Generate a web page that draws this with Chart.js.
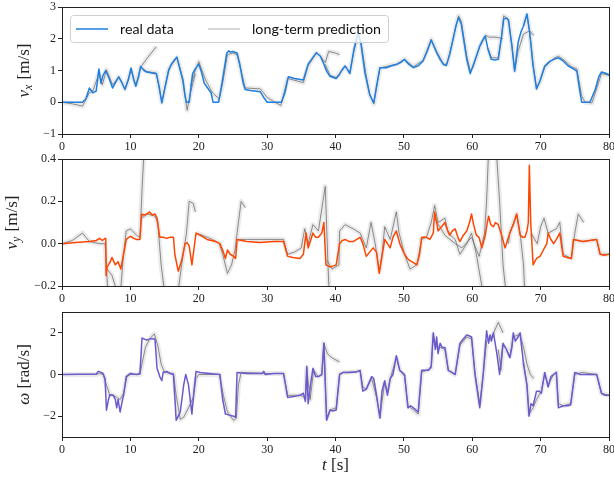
<!DOCTYPE html>
<html><head><meta charset="utf-8">
<script src="https://cdn.jsdelivr.net/npm/chart.js@4/dist/chart.umd.min.js"></script>
<style>
html,body{margin:0;padding:0;background:#fff;}
canvas{position:absolute;left:0;}
</style></head>
<body>
<canvas id="c1" width="614" height="152" style="top:0px;width:614px;height:152px"></canvas>
<canvas id="c2" width="614" height="152" style="top:152px;width:614px;height:152px"></canvas>
<canvas id="c3" width="614" height="177" style="top:304px;width:614px;height:177px"></canvas>
<script>
// ---------- tick labels ----------
const xTicks = [0,10,20,30,40,50,60,70,80];
const vxTicks = [-1,0,1,2,3];
const vyTicks = [-0.2,0.0,0.2,0.4];
const wTicks = [-2,0,2];
const legendLabels = ["real data","long-term prediction"];

// ---------- v_x real data ----------
const tVx = [0,3,3.5,4.0,4.5,5.0,5.4,5.7,6.0,6.4,6.9,7.4,7.9,8.3,8.8,9.2,9.7,10.1,10.5,10.8,11.2,11.5,12.0,12.4,13.0,13.8,14.2,14.6,15.0,15.6,16.0,16.5,16.8,17.3,17.7,18.0,18.2,18.6,19.1,19.5,20.0,20.4,20.8,21.3,21.8,22.1,22.9,23.4,24.1,24.4,24.6,25.0,25.6,26.0,26.5,26.8,27.5,29.0,29.5,30.0,32.1,32.6,33.1,34.0,35.3,36.0,36.5,37.2,37.8,38.3,38.7,39.2,40.1,40.5,40.9,41.4,41.7,42.1,42.7,43.3,43.7,44.3,45.0,45.6,46.0,46.5,47.5,48.2,48.9,49.5,50.1,50.7,51.4,52.1,52.8,53.4,54.0,54.8,55.3,55.8,56.2,56.7,57.2,57.6,58.0,58.4,58.8,59.2,59.7,60.1,60.6,61.1,61.5,61.9,62.3,62.8,63.3,63.8,64.3,64.6,65.0,65.3,65.8,66.2,66.7,67.1,67.5,68.0,68.4,68.9,69.4,69.9,70.6,71.3,71.9,72.6,73.3,74.0,74.5,75.3,75.7,76.0,77.2,78.0,78.5,78.9,79.4,80.0];
const vx = [0,0,0.1,0.45,0.3,0.35,1.05,0.6,0.85,1.0,0.75,0.45,0.65,0.8,0.6,0.4,0.7,1.08,0.7,0.5,0.8,1.13,1.0,0.95,0.93,0.9,0.5,-0.02,0.4,1.0,1.2,1.35,1.42,1.0,0.7,0.2,0.0,0.0,0.9,1.05,1.2,0.95,0.6,0.45,0.3,0.0,0.0,0.6,1.55,1.62,1.58,1.6,1.55,1.2,0.6,0.4,0.37,0.33,0.15,0.0,0.0,0.3,0.8,0.75,0.7,1.2,1.35,1.56,1.45,1.2,0.98,0.82,0.75,0.85,1.0,1.14,1.05,0.9,1.67,2.2,1.88,0.93,0.24,-0.02,0.5,1.09,1.09,1.15,1.19,1.25,1.35,1.2,1.09,1.15,1.3,1.6,1.96,1.56,1.35,1.19,1.16,1.5,1.99,2.4,2.67,2.46,1.9,1.35,0.9,1.14,1.45,1.77,1.95,2.09,1.67,1.35,1.33,1.35,2.09,2.62,2.65,2.57,1.77,0.98,1.88,2.2,2.41,2.78,2.2,1.14,0.42,0.67,1.14,1.28,1.35,1.4,1.3,1.15,1.09,0.98,0.4,0.0,0.0,0.4,0.8,0.95,0.92,0.86];
// ---------- v_x predictions (segments split by null) ----------
const tVxPred = [0,1.5,3,4,4.5,5.4,5.9,6.5,7.4,8.3,9.2,10.1,10.8,11.5,12.5,13.8,null,
 11.5,12.4,13.8,14.6,15.6,16.8,17.3,17.7,18.3,18.8,19.5,null,
 18.8,19.5,20.0,21.0,22.0,23.0,23.5,24.2,25.0,25.6,26.8,29.0,30.0,31.0,32.0,33.0,35.3,36.0,37.2,37.8,38.5,39.0,40.0,40.6,null,
 38.5,39.2,40.1,41.4,42.1,42.7,43.3,43.8,44.4,45.0,45.6,46.5,48.9,50.1,51.4,52.8,54.0,54.8,55.8,56.3,57.2,58.0,58.4,59.2,59.7,60.1,61.1,62.0,62.5,63.5,64.5,null,
 62.3,62.8,63.8,64.3,64.6,65.3,65.8,66.2,66.7,67.5,68.4,69.0,null,
 67.5,68.0,68.4,68.9,69.4,69.9,70.6,71.9,72.6,73.3,74.5,75.3,76.0,76.5,77.5,78.0,78.9,80.0];
const vxPred = [0,-0.05,-0.12,0.3,0.35,0.9,0.55,1.02,0.55,0.8,0.42,1.0,0.55,1.1,1.4,1.75,null,
 1.1,0.97,0.92,0.0,1.05,1.4,1.05,0.6,-0.25,0.3,0.9,null,
 0.5,1.0,1.28,0.7,0.3,0.1,0.6,1.5,1.55,1.5,0.45,0.42,0.15,0.02,-0.1,0.75,0.62,1.15,1.55,1.45,1.25,1.6,1.55,1.5,null,
 1.2,0.85,0.78,1.12,0.95,1.6,2.15,1.8,0.95,0.25,-0.05,1.08,1.2,1.35,1.12,1.32,1.98,1.6,1.2,1.2,2.0,2.72,2.55,1.45,1.0,1.1,1.75,2.1,2.05,2.05,2.0,null,
 1.7,1.4,1.4,2.1,2.72,2.62,1.8,1.0,1.6,2.15,2.25,2.1,null,
 2.4,2.75,2.2,1.2,0.45,0.65,1.1,1.38,1.45,1.35,1.12,1.05,0.2,0.0,-0.02,0.3,0.9,0.85];

// ---------- v_y real data ----------
const tVy = [0,2,4,5.0,5.5,5.9,6.3,6.4,6.45,6.6,7.0,7.3,7.8,8.2,8.6,9.0,9.4,10.0,10.5,10.9,11.4,11.65,12.0,12.4,12.8,13.2,13.6,13.9,14.3,14.8,15.3,15.8,16.3,16.5,17.0,17.5,18.0,18.3,18.6,19.0,19.2,19.6,20.2,21.2,22.5,23.1,23.6,23.9,24.2,24.6,25.1,25.4,25.6,27,29,31,32.4,33.0,33.8,34.8,35.3,35.7,36.0,36.4,36.7,37.1,37.5,38.0,38.3,38.6,39.2,39.7,40.1,40.6,41.0,41.4,42.0,42.6,43.1,43.6,44.0,44.5,45.0,45.5,46.0,46.4,46.7,47.2,47.6,48.0,48.4,48.9,49.4,50.1,50.5,50.9,51.4,51.9,52.3,52.6,53.3,53.8,54.3,54.5,54.8,55.0,55.5,56.0,56.3,56.7,57.1,57.5,57.9,58.2,58.7,59.2,59.6,59.9,60.2,60.6,61.0,61.4,61.9,62.2,62.4,62.7,63.1,63.4,63.8,64.3,64.8,65.3,65.6,66.0,66.5,66.8,67.0,67.4,67.7,68.0,68.2,68.35,68.55,68.9,69.4,69.9,70.4,70.9,71.1,71.5,71.9,72.3,72.8,73.3,73.9,74.5,74.8,75.5,76.2,77.2,78.2,78.7,79.3,80];
const vy = [0,0.005,0.01,0.015,0.025,0.015,0.025,0.02,-0.15,-0.11,-0.09,-0.065,-0.1,-0.085,-0.12,-0.05,0.02,0.035,0.025,0.02,0.02,0.14,0.135,0.14,0.15,0.135,0.14,0.12,0.03,0.03,0.025,0.03,0.03,-0.05,-0.13,-0.08,0.0,0.005,-0.01,-0.1,-0.05,0.05,0.04,0.02,0.01,0.0,-0.04,-0.07,-0.03,-0.05,-0.06,-0.07,0.02,0.01,0.005,0.01,0.01,-0.06,-0.065,-0.07,-0.05,0.05,-0.02,0.02,0.05,0.03,0.03,0.05,0.1,-0.1,-0.11,-0.105,-0.1,0.0,0.015,0.02,0.01,0.01,0.02,0.03,0.0,-0.06,-0.04,-0.02,-0.04,-0.14,-0.08,0.02,0.0,-0.02,0.03,0.06,0.0,-0.05,-0.07,-0.08,-0.09,-0.1,-0.05,0.03,0.03,0.02,0.05,0.15,0.1,0.06,0.08,0.1,0.07,0.04,0.06,0.07,0.03,0.01,0.04,0.06,0.1,0.14,0.09,0.04,0.03,-0.02,0.04,0.1,0.13,0.09,0.08,0.1,0.09,0.04,-0.02,0.03,0.06,0.09,0.14,0.08,0.04,0.03,0.03,0.06,0.1,0.37,0.1,-0.1,-0.07,-0.06,-0.03,0.0,0.05,0.02,0.0,0.02,0.05,-0.06,-0.065,-0.07,0.02,0.015,0.01,0.015,0.02,-0.05,-0.055,-0.05];
// ---------- v_y predictions ----------
const tVyPred = [0,1.5,3.0,4.0,5.5,6.3,6.5,6.8,null,
 6.6,7.3,7.8,8.2,8.6,9.0,9.4,10.0,10.9,11.4,11.7,12.1,null,
 11.6,12.5,13.6,14.0,14.5,15.0,16.0,17.0,17.5,18.2,18.6,19.2,19.5,null,
 19.6,20.5,22.0,23.0,23.5,24.2,24.8,25.3,25.8,26.2,26.8,null,
 25.6,27.0,30.0,32.4,33.0,34.0,35.0,35.5,36.0,36.7,37.5,38.5,38.9,39.1,null,
 38.8,39.5,40.5,40.6,41.4,42.6,43.6,44.5,45.2,45.8,46.4,46.8,47.2,48.0,48.9,49.3,50.1,50.9,51.9,52.6,53.3,54.0,54.5,55.0,56.0,56.5,57.5,58.2,59.2,59.9,60.6,61.4,61.6,null,
 54.5,56.0,57.5,58.5,59.9,61.0,61.8,62.1,62.4,63.5,64.0,64.5,65.0,null,
 65.3,65.5,66.5,67.0,67.5,67.7,null,
 68.6,69.5,70.0,70.5,71.1,72.3,72.8,73.3,74.5,75.0,75.5,76.3,null,
 74.8,76.0,78.2,78.7,80.0];
const vyPred = [0,0.015,0.05,0.01,0.0,0.0,-0.1,-0.3,null,
 -0.12,-0.15,-0.2,-0.22,-0.21,-0.05,0.06,0.07,0.04,0.03,0.25,0.5,null,
 0.12,0.14,0.13,0.1,-0.1,-0.23,-0.26,-0.22,-0.1,0.05,0.2,0.19,0.15,null,
 0.05,0.04,0.02,0.0,-0.05,-0.14,-0.1,-0.03,0.1,0.2,0.17,null,
 0.02,0.02,0.02,0.02,-0.05,-0.04,-0.02,0.07,0.0,0.09,0.06,0.27,-0.1,-0.25,null,
 -0.08,-0.12,-0.1,0.06,0.09,0.07,0.05,-0.02,0.1,0.0,-0.13,-0.05,0.08,0.02,0.15,0.05,-0.05,-0.12,-0.1,0.02,0.03,0.1,0.18,0.1,0.12,0.05,0.02,-0.05,0.0,0.05,-0.05,-0.2,-0.25,null,
 0.12,0.04,0.0,-0.02,0.03,-0.06,0.05,0.2,0.45,0.45,0.2,-0.1,-0.25,null,
 0.0,0.05,0.14,0.05,-0.1,-0.25,null,
 0.05,0.0,0.08,0.12,0.05,0.07,0.1,-0.05,-0.07,0.05,0.14,0.1,null,
 0.02,0.01,0.02,-0.05,-0.05];

// ---------- omega real data ----------
const tW = [0,5.0,5.3,5.7,6.0,6.3,6.5,6.8,7.0,7.5,7.8,8.0,8.2,8.5,8.8,9.0,9.4,10.0,10.9,11.4,11.7,12.4,13.0,13.6,13.9,14.3,14.6,14.8,15.3,15.8,16.3,16.7,17.0,17.3,17.8,18.1,18.5,19.0,19.3,19.6,20.2,21.5,23.1,23.5,23.9,24.5,25.1,25.4,25.6,27,29.3,29.5,29.7,31,32.4,33.0,34.0,34.8,35.3,35.6,35.8,36.0,36.3,36.7,37.1,37.5,38.0,38.3,38.7,39.2,39.6,40.1,40.6,41.1,42.0,43.0,43.6,44.0,44.5,45.3,45.6,46.0,46.5,46.8,47.2,47.6,48.0,48.4,48.9,49.4,50.1,50.6,51.0,51.4,52.1,52.6,53.6,54.0,54.3,54.6,54.8,55.0,55.3,55.6,56.0,56.5,57.0,57.5,58.2,58.7,59.2,59.6,59.9,60.4,61.1,61.6,62.1,62.4,62.6,62.8,63.1,63.6,64.0,64.5,65.0,65.5,65.8,66.0,66.3,66.7,67.0,67.5,68.0,68.3,68.6,68.9,69.4,69.8,70.1,70.6,71.1,71.5,71.9,72.3,72.6,73.3,74.0,74.4,75.0,75.8,77,78.2,78.9,79.4,80];
const w = [0,0.02,0.15,0.1,0.05,-0.2,-1.72,-1.2,-0.97,-1.0,-1.2,-1.6,-1.2,-1.8,-1.3,-1.0,-0.1,0.05,0.0,0.05,1.75,1.65,1.72,1.7,0.3,-0.1,-0.3,0.1,0.15,0.05,0.0,-2.2,-2.0,-1.8,-0.5,0.0,-0.5,-1.9,-0.8,0.15,0.1,0.05,0.0,-1.2,-1.9,-1.95,-2.0,-2.05,0.1,0.05,0.05,0.15,0.0,0.05,0.05,-1.1,-1.05,-1.0,-0.9,-1.3,0.4,-1.4,-0.6,0.3,-0.1,-0.1,0.0,1.5,-2.2,-1.7,-1.75,-1.7,0.0,0.1,0.1,0.12,0.2,-0.8,-0.7,-0.1,-0.2,-1.0,-2.1,-0.8,-0.3,-1.0,-0.2,0.0,0.9,0.2,0.0,-1.6,-1.5,-1.6,-1.8,0.2,0.2,0.4,2.0,1.2,1.8,1.0,1.5,1.3,1.3,0.2,0.1,0.0,1.5,1.7,1.9,1.85,1.8,0.0,-1.6,0.0,2.1,1.5,1.9,1.6,2.0,1.0,0.0,1.5,1.2,0.8,1.3,2.0,1.6,1.8,2.0,0.5,-0.5,-2.0,-1.4,-1.5,-0.8,-0.8,-0.9,0.1,-0.6,-0.1,0.0,0.1,-1.6,-1.5,-1.5,-1.45,0.1,0.0,0.0,0.0,-0.9,-1.0,-1.0];
// ---------- omega predictions ----------
const tWPred = [0,5.0,5.5,6.0,6.5,7.0,7.5,8.0,8.5,9.0,9.5,10.0,11.4,11.7,12.2,12.8,13.5,14.0,14.5,15.0,16.3,16.7,17.3,17.8,18.5,19.2,19.6,20.0,23.0,23.6,24.2,25.1,25.5,25.8,26.2,30.0,32.4,33.0,34.8,35.6,35.8,36.3,36.8,37.5,38.0,38.3,38.8,39.5,40.6,null,
 38.3,38.7,39.2,40.1,40.6,41.1,43.6,44.0,44.5,45.3,46.0,46.5,47.2,47.6,48.0,48.9,49.4,50.1,50.6,51.4,52.1,52.6,54.0,54.3,54.8,55.3,56.0,56.5,57.5,58.2,59.2,59.9,60.4,61.1,61.6,62.1,63.0,63.8,64.5,null,
 63.8,64.2,64.5,65.0,65.5,66.0,66.7,67.0,67.5,68.0,68.5,69.0,null,
 67.5,68.0,68.3,68.9,69.4,70.1,70.6,71.1,71.9,72.3,72.6,73.3,74.4,75.0,76.0,78.2,78.9,80.0];
const wPred = [0,0,0.05,0,-0.5,-1.0,-1.0,-1.1,-1.2,-0.9,-0.1,0,0,0.5,1.3,1.7,1.95,1.4,0.5,0.1,0.05,-1.0,-2.15,-2.05,-1.6,-1.1,-0.2,0,0,-1.0,-1.8,-2.2,-2.1,-0.5,0.1,0.05,0.05,-1.0,-1.0,-1.1,0.3,-1.2,0.2,-0.1,0,1.5,1.0,0.8,0.6,null,
 1.5,-2.1,-1.7,-1.6,0,0.1,0.15,-0.6,-0.7,-0.2,-1.1,-2.0,-0.4,-0.8,-0.2,0.8,0.2,-0.1,-1.5,-1.7,-1.9,0.1,0.3,1.9,1.3,1.3,1.2,0.2,0,1.4,1.8,1.7,0.1,-1.4,0,1.6,1.9,2.5,2.0,null,
 1.2,0.2,1.4,1.2,0.9,1.8,1.9,1.9,1.3,0.5,0.0,-0.2,null,
 0.6,-0.5,-1.9,-1.6,-1.2,-0.8,0.0,-0.5,0.0,0.1,-1.4,-1.5,-1.4,0.0,0.1,0.0,-0.9,-1.0];

// ---------- helpers ----------
const SERIF = '"Liberation Serif", "Times New Roman", serif';
const AXIS_COLOR = '#222';
function pts(t, v) { return t.map((x, i) => ({ x: x, y: v[i] })); }
function fmtMinus(s) { return s.replace('-', '\u2212'); }

const framePlugin = {
  id: 'frame',
  afterDraw(chart) {
    const a = chart.chartArea, ctx = chart.ctx;
    ctx.save();
    ctx.strokeStyle = AXIS_COLOR; ctx.lineWidth = 1;
    ctx.strokeRect(Math.round(a.left) + 0.5, Math.round(a.top) + 0.5,
                   Math.round(a.right - a.left), Math.round(a.bottom - a.top));
    ctx.restore();
  }
};

function yTitlePlugin(cx, main, sub, unit) {
  return {
    id: 'ytitle',
    afterDraw(chart) {
      const ctx = chart.ctx, a = chart.chartArea;
      const cy = (a.top + a.bottom) / 2;
      ctx.save();
      ctx.fillStyle = AXIS_COLOR;
      ctx.textBaseline = 'middle';
      const fMain = 'italic 17px ' + SERIF, fSub = 'italic 12px ' + SERIF, fUnit = '17px ' + SERIF;
      ctx.font = fMain; const w1 = ctx.measureText(main).width;
      ctx.font = fSub; const w2 = sub ? ctx.measureText(sub).width + 1 : 0;
      ctx.font = fUnit; const w3 = ctx.measureText(unit).width;
      const total = w1 + w2 + w3;
      ctx.translate(cx, cy);
      ctx.rotate(-Math.PI / 2);
      let x = -total / 2;
      ctx.textAlign = 'left';
      ctx.font = fMain; ctx.fillText(main, x, 0); x += w1;
      if (sub) { ctx.font = fSub; ctx.fillText(sub, x, 4); x += w2; }
      ctx.font = fUnit; ctx.fillText(unit, x, 0);
      ctx.restore();
    }
  };
}

const xTitlePlugin = {
  id: 'xtitle',
  afterDraw(chart) {
    const ctx = chart.ctx, a = chart.chartArea;
    const cx = (a.left + a.right) / 2, y = a.bottom + 29;
    ctx.save();
    ctx.fillStyle = AXIS_COLOR; ctx.textBaseline = 'middle'; ctx.textAlign = 'left';
    const f1 = 'italic 17px ' + SERIF, f2 = '17px ' + SERIF;
    ctx.font = f1; const w1 = ctx.measureText('t').width;
    ctx.font = f2; const w2 = ctx.measureText(' [s]').width;
    let x = cx - (w1 + w2) / 2;
    ctx.font = f1; ctx.fillText('t', x, y);
    ctx.font = f2; ctx.fillText(' [s]', x + w1, y);
    ctx.restore();
  }
};

const legendPlugin = {
  id: 'mylegend',
  afterDraw(chart) {
    const ctx = chart.ctx;
    ctx.save();
    const bx = 70.5, by = 15.5, bw = 318, bh = 27;
    ctx.beginPath();
    ctx.roundRect(bx, by, bw, bh, 3);
    ctx.fillStyle = 'rgba(255,255,255,0.8)';
    ctx.fill();
    ctx.strokeStyle = '#d0d0d0'; ctx.lineWidth = 1; ctx.stroke();
    const cy = 29;
    ctx.lineWidth = 1.5;
    ctx.strokeStyle = '#1f7fe0';
    ctx.beginPath(); ctx.moveTo(76, cy); ctx.lineTo(108, cy); ctx.stroke();
    ctx.strokeStyle = 'rgba(150,150,150,0.5)';
    ctx.beginPath(); ctx.moveTo(208, cy); ctx.lineTo(240, cy); ctx.stroke();
    let fs = 14;
    ctx.font = fs + 'px Lato, "Open Sans", sans-serif';
    const mw = ctx.measureText(legendLabels[1]).width;
    fs = fs * 129 / mw;
    ctx.font = fs.toFixed(2) + 'px Lato, "Open Sans", sans-serif';
    ctx.fillStyle = '#111'; ctx.textBaseline = 'middle'; ctx.textAlign = 'left';
    ctx.fillText(legendLabels[0], 120, cy);
    ctx.fillText(legendLabels[1], 252, cy);
    ctx.restore();
  }
};

function makeChart(id, cfg) {
  const datasets = [
    { data: pts(cfg.tp, cfg.vp), borderColor: 'rgba(150,150,150,0.2)', borderWidth: 5, order: 3, clip: 0, spanGaps: false },
    { data: pts(cfg.tp, cfg.vp), borderColor: 'rgba(95,95,95,0.7)', borderWidth: 1, order: 2, clip: 0, spanGaps: false },
    { data: pts(cfg.t, cfg.v), borderColor: cfg.color, borderWidth: 1.5, order: 1, clip: 0 }
  ];
  const plugins = [framePlugin, yTitlePlugin(cfg.titleX, cfg.main, cfg.sub, cfg.unit)].concat(cfg.extra || []);
  return new Chart(document.getElementById(id), {
    type: 'line',
    data: { datasets },
    options: {
      responsive: false, animation: false, events: [],
      layout: { padding: { top: cfg.padTop, left: 0, right: 5, bottom: 0 } },
      plugins: { legend: { display: false }, tooltip: { enabled: false } },
      elements: { point: { radius: 0 }, line: { tension: 0, borderJoinStyle: 'round' } },
      scales: {
        x: {
          type: 'linear', min: 0, max: 80,
          afterBuildTicks: s => { s.ticks = xTicks.map(v => ({ value: v })); },
          afterFit: s => { s.height = cfg.xH; s.paddingLeft = 0; s.paddingRight = 0; },
          grid: { drawOnChartArea: false, drawTicks: true, tickLength: 4, color: AXIS_COLOR, lineWidth: 1 },
          border: { display: false },
          ticks: { font: { family: SERIF, size: 12 }, color: AXIS_COLOR, padding: 2, maxRotation: 0, autoSkip: false,
                   callback: v => fmtMinus(String(v)) }
        },
        y: {
          min: cfg.min, max: cfg.max,
          afterBuildTicks: s => { s.ticks = cfg.ticks.map(v => ({ value: v })); },
          afterFit: s => { s.width = 62; s.paddingTop = 0; s.paddingBottom = 0; },
          grid: { drawOnChartArea: false, drawTicks: true, tickLength: 4, color: AXIS_COLOR, lineWidth: 1 },
          border: { display: false },
          ticks: { font: { family: SERIF, size: 12 }, color: AXIS_COLOR, padding: 2, autoSkip: false,
                   callback: v => fmtMinus(cfg.dec ? Number(v).toFixed(cfg.dec) : String(v)) }
        }
      }
    },
    plugins
  });
}

makeChart('c1', { t: tVx, v: vx, tp: tVxPred, vp: vxPred, color: '#1f7fe0', min: -1, max: 3, ticks: vxTicks,
  padTop: 7, xH: 18, titleX: 25, main: 'v', sub: 'x', unit: ' [m/s]', extra: [legendPlugin] });
makeChart('c2', { t: tVy, v: vy, tp: tVyPred, vp: vyPred, color: '#ff4500', min: -0.2, max: 0.4, ticks: vyTicks, dec: 1,
  padTop: 7, xH: 18, titleX: 13, main: 'v', sub: 'y', unit: ' [m/s]' });
makeChart('c3', { t: tW, v: w, tp: tWPred, vp: wPred, color: '#6a5acd', min: -3, max: 3, ticks: wTicks,
  padTop: 8, xH: 44, titleX: 25, main: '\u03c9', sub: '', unit: ' [rad/s]', extra: [xTitlePlugin] });
</script>
</body></html>
